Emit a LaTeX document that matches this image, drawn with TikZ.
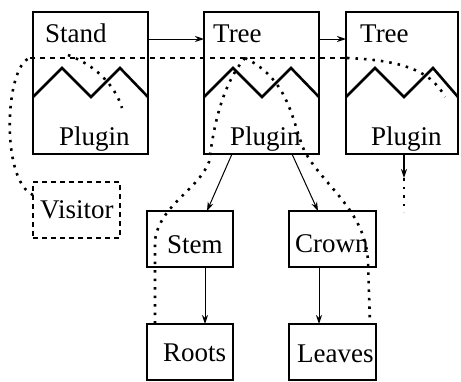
\documentclass[tikz,border=0pt]{standalone}
\usepackage{fontspec}
\setmainfont{Liberation Serif}
\newfontfamily\labelface{Liberation Serif}
\usetikzlibrary{calc,arrows.meta}

\tikzset{
  box/.style={draw, line width=2.6pt, outer sep=0pt, inner sep=0pt},
  vbox/.style={draw, line width=2.2pt, outer sep=0pt, inner sep=0pt, dash pattern=on 5pt off 4pt},
  lbl/.style={anchor=base west, inner sep=0pt, font=\labelface\fontsize{27}{29}\selectfont},
  zig/.style={line width=2.6pt, line join=miter},
  arr/.style={line width=1pt, -{Stealth[length=9pt,width=6pt]}},
  walk/.style={line width=2.6pt, dash pattern=on 2.5pt off 6pt},
  walkdash/.style={line width=2.2pt, dash pattern=on 5pt off 5pt},
}

\newcommand\zigline[1]{%
  \draw[zig] ($(#1.north west)+(0,85)$) -- ($(#1.north west)+(29,56)$)
    -- ($(#1.north west)+(58,85)$) -- ($(#1.north west)+(87,56)$)
    -- ($(#1.north east)+(0,85)$);}

\begin{document}
\begin{tikzpicture}[x=1pt,y=-1pt]
\useasboundingbox (0,0) rectangle (461,381);

% plugin hosts
\node[box, minimum width=115pt, minimum height=142pt] (stand) at (90.5,83) {};
\node[box, minimum width=115pt, minimum height=142pt] (tree)  at (261.5,83) {};
\node[box, minimum width=112pt, minimum height=142pt] (tree2) at (402,83) {};
\zigline{stand}
\zigline{tree}
\zigline{tree2}

\node[lbl] (standT) at (45,42) {Stand};
\node[lbl] (standP) at (59,145) {Plugin};
\node[lbl] (treeT)  at (213,42) {Tree};
\node[lbl] (treeP)  at (230,145) {Plugin};
\node[lbl] (tree2T) at (360,42) {Tree};
\node[lbl] (tree2P) at (371,145) {Plugin};

% visitor and tree parts
\node[vbox, minimum width=87pt, minimum height=56pt] (visitor) at (76.5,210) {};
\node[lbl] (visitorT) at (40,218) {Visitor};

\node[box, minimum width=86pt, minimum height=56pt] (stem)   at (190,239) {};
\node[box, minimum width=87pt, minimum height=56pt] (crown)  at (332.5,239) {};
\node[box, minimum width=86pt, minimum height=56pt] (roots)  at (190,352) {};
\node[box, minimum width=87pt, minimum height=56pt] (leaves) at (332.5,352) {};
\node[lbl] (stemT)   at (167,253) {Stem};
\node[lbl] (crownT)  at (295,252) {Crown};
\node[lbl] (rootsT)  at (163,361) {Roots};
\node[lbl] (leavesT) at (297,362) {Leaves};

% structural links
\draw[arr] ($(stand.north east)+(0,27)$) -- ($(tree.north west)+(0,27)$);
\draw[arr] ($(tree.north east)+(0,27)$) -- ($(tree2.north west)+(0,27)$);
\draw[arr] ($(tree.south west)+(28,0)$) -- ($(stem.north west)+(60,0)$);
\draw[arr] ($(tree.south west)+(88,0)$) -- ($(crown.north west)+(29,0)$);
\draw[arr] ($(stem.south west)+(58,0)$) -- ($(roots.north west)+(58,0)$);
\draw[arr] ($(crown.south west)+(30,0)$) -- ($(leaves.north west)+(30,0)$);
\coordinate (t2end) at (404,178);
\coordinate (t2tail) at (404,212);
\draw[arr, line width=1.6pt] ($(tree2.south)+(2,0)$) -- (t2end);
\draw[walk] (t2end) -- (t2tail);

% visitor walk
\coordinate (wstart) at (30,58);
\coordinate (wmid) at (347,58);
\coordinate (wend) at (445,97);
\draw[walk] ($(visitor.north west)+(0,13)$) .. controls (0,180) and (5,65) .. (wstart);
\draw[walkdash] (wstart) -- (wmid);
\draw[walk] (wmid) .. controls (395,60) and (430,68) .. (wend);
\draw[walk] (68,55) .. controls (95,65) and (115,85) .. (122,108);
% through the tree to stem and roots
\draw[walk] (245,58) .. controls (222,85) and (214,125) .. (209,162)
  .. controls (198,190) and (160,205) .. (155,240) -- ($(roots.north west)+(8,0)$);
% through the tree to crown and leaves
\draw[walk] (245,58) .. controls (290,80) and (292,122) .. (304,150)
  .. controls (322,185) and (366,210) .. (368,262) -- ($(leaves.north east)+(-6,0)$);
\end{tikzpicture}
\end{document}
